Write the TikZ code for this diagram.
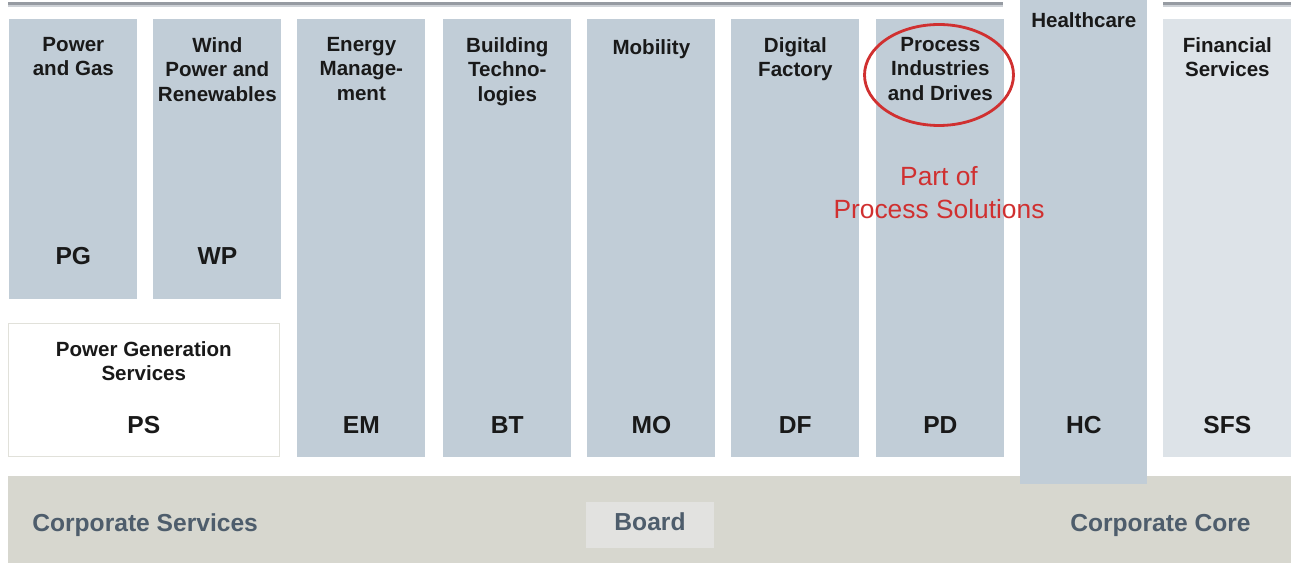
\documentclass[tikz,border=0pt]{standalone}
\usepackage{fontspec}
\setmainfont{Liberation Sans}
\usetikzlibrary{shapes.geometric, positioning, calc}
\definecolor{unitblue}{RGB}{193, 205, 215}
\definecolor{finblue}{RGB}{221, 227, 232}
\definecolor{bandgray}{RGB}{215, 215, 207}
\definecolor{boardgray}{RGB}{226, 226, 224}
\definecolor{psborder}{RGB}{225, 225, 218}
\definecolor{slatetext}{RGB}{78, 93, 108}
\definecolor{darktext}{RGB}{25, 25, 25}
\definecolor{markred}{RGB}{208, 48, 48}
\definecolor{rulegray}{RGB}{150, 155, 162}
\definecolor{rulelight}{RGB}{205, 209, 214}

\tikzset{
    unit/.style={fill=unitblue, anchor=north west, minimum width=2.56cm, inner sep=0pt},
    unittitle/.style={anchor=north, inner sep=0pt, align=center, text=darktext,
        font=\fontsize{11.7}{13.9}\selectfont\bfseries, execute at begin node=\strut},
    unitabbr/.style={inner sep=0pt, text=darktext, font=\fontsize{14}{16}\selectfont\bfseries},
    corelabel/.style={inner sep=0pt, text=slatetext, font=\fontsize{14}{16}\selectfont\bfseries}
}

\begin{document}
\begin{tikzpicture}[x=0.02cm, y=-0.02cm]
    \useasboundingbox (0,0) rectangle (1294,563);
    \coordinate (titleline) at (0,37);
    \coordinate (abbrline) at (0,425);

    % double rule along the top
    \foreach \a/\b in {8/1003, 1163/1291} {
        \draw[rulegray, line width=0.045cm] (\a,3.5) -- (\b,3.5);
        \draw[rulelight, line width=0.04cm] (\a,5.8) -- (\b,5.8);
    }

    % corporate band
    \node[fill=bandgray, anchor=north west, minimum width=25.66cm, minimum height=1.74cm, inner sep=0pt] (band) at (8,476) {};

    % divisions
    \node[unit, minimum height=5.6cm] (pg) at (9,19) {};
    \node[unit, minimum height=5.6cm] (wp) at (153,19) {};
    \foreach \n/\x in {em/297, bt/443, mo/587, df/731, pd/876}
        \node[unit, minimum height=8.76cm] (\n) at (\x,19) {};
    \node[unit, minimum width=2.54cm, minimum height=9.68cm] (hc) at (1020,0) {};
    \node[unit, fill=finblue, minimum height=8.76cm] (sfs) at (1163,19) {};
    \node[unit, fill=white, draw=psborder, minimum width=5.42cm, minimum height=2.66cm] (ps) at (8,323) {};

    \node[unittitle] (pg-title) at (pg |- titleline) {Power\\and Gas};
    \node[unittitle] (wp-title) at (wp |- titleline) {Wind\\Power and\\Renewables};
    \node[unittitle] (em-title) at (em |- titleline) {Energy\\Manage-\\ment};
    \node[unittitle] (bt-title) at (bt |- titleline) {Building\\Techno-\\logies};
    \node[unittitle] (mo-title) at (mo |- titleline) {Mobility};
    \node[unittitle] (df-title) at (df |- titleline) {Digital\\Factory};
    \node[unittitle] (pd-title) at (pd |- titleline) {Process\\Industries\\and Drives};
    \node[unittitle] (hc-title) at ([yshift=-0.2cm]hc.north) {Healthcare};
    \node[unittitle] (sfs-title) at (sfs |- titleline) {Financial\\Services};
    \node[unittitle] (ps-title) at ([yshift=-0.36cm]ps.north) {Power Generation\\Services};

    \node[unitabbr] (pg-abbr) at ([yshift=0.88cm]pg.south) {PG};
    \node[unitabbr] (wp-abbr) at ([yshift=0.88cm]wp.south) {WP};
    \foreach \n/\t in {ps/PS, em/EM, bt/BT, mo/MO, df/DF, pd/PD, hc/HC, sfs/SFS}
        \node[unitabbr] (\n-abbr) at (\n |- abbrline) {\t};

    % highlight on PD
    \node[ellipse, draw=markred, line width=1.6pt, minimum width=2.98cm, minimum height=2.02cm] (mark) at (939,75) {};
    \node[anchor=north, inner sep=0pt, align=center, text=markred,
          font=\fontsize{15}{18.8}\selectfont, execute at begin node=\strut] (note) at (939,166) {Part of\\Process Solutions};

    \node[corelabel, anchor=base west] (services) at (32,531) {Corporate Services};
    \node[corelabel, fill=boardgray, minimum width=2.58cm, minimum height=0.92cm, text depth=3.5pt] (board) at (650,525) {Board};
    \node[corelabel, anchor=base east] (core) at (1251,531) {Corporate Core};
\end{tikzpicture}
\end{document}
